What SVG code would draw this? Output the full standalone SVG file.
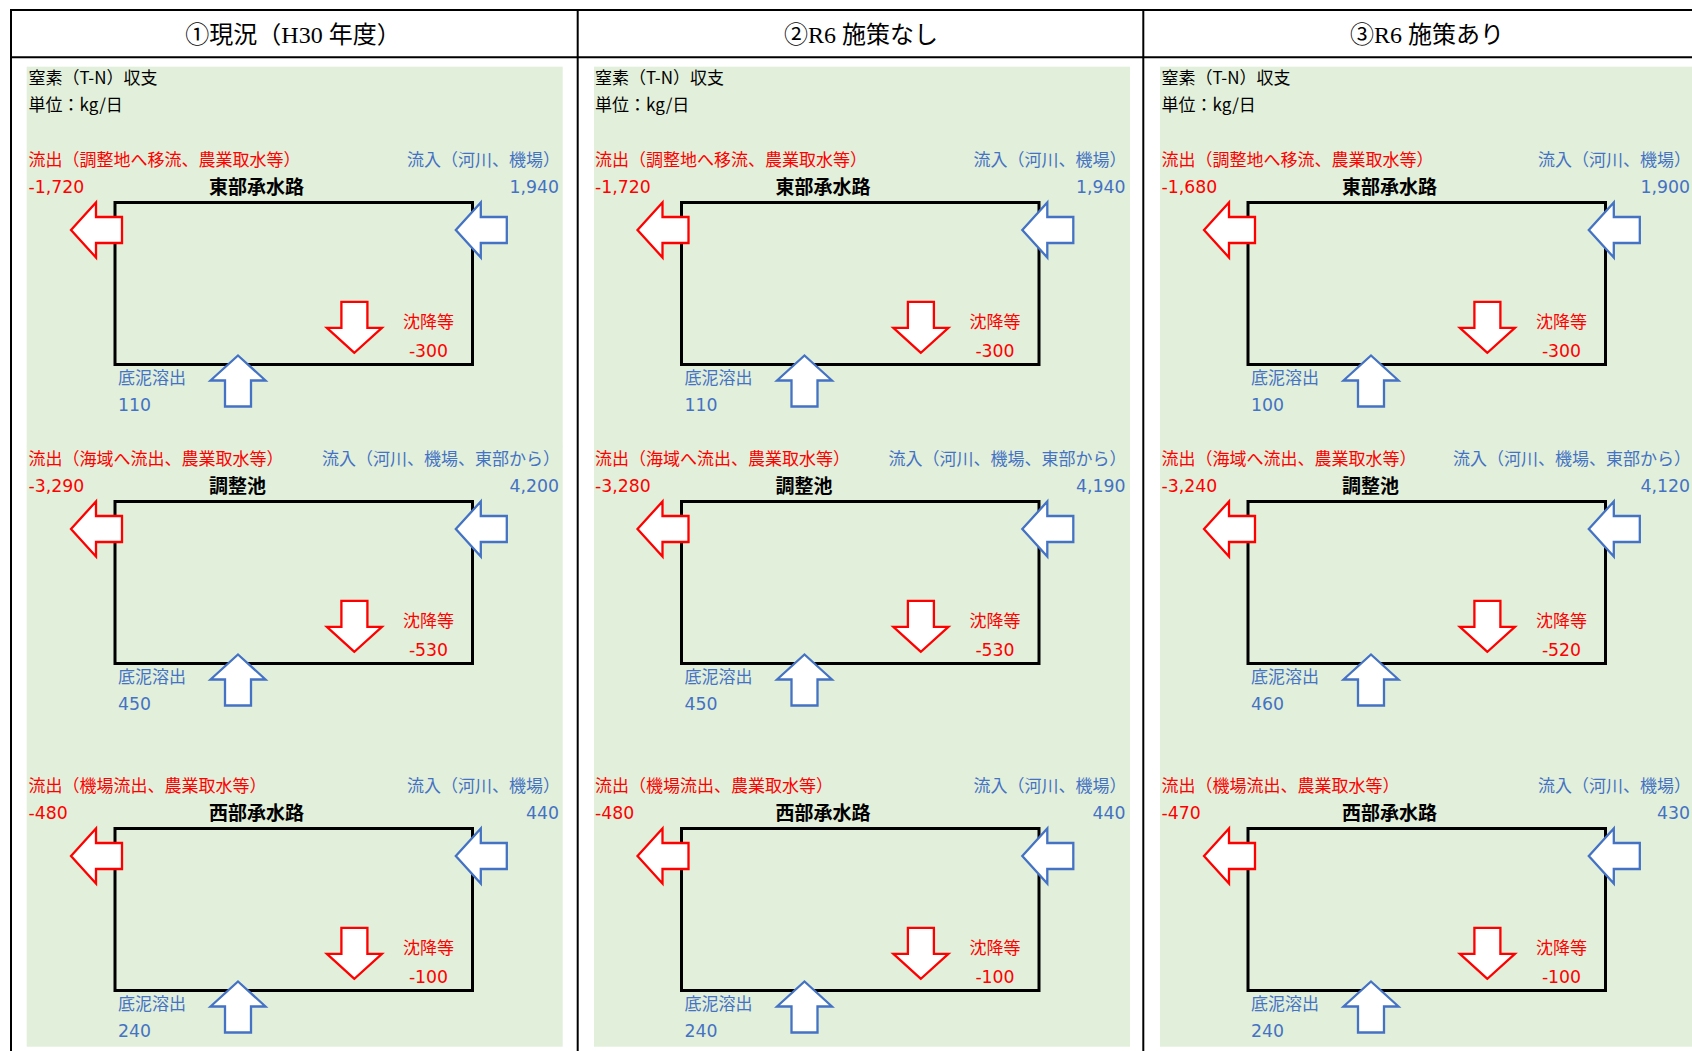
<svg xmlns="http://www.w3.org/2000/svg" xmlns:xlink="http://www.w3.org/1999/xlink" width="1692" height="1051" viewBox="0 0 1692 1051">
<style>
.bg{fill:#E2EFDA}
.grid{stroke:#000;stroke-width:2;fill:none}
.box{fill:none;stroke:#000;stroke-width:3}
.t{font-family:"Noto Sans CJK JP",sans-serif;font-size:17px}
.n{font-family:"DejaVu Sans","Noto Sans CJK JP",sans-serif;font-size:17.3px}
.title{font-family:"Noto Sans CJK JP",sans-serif;font-size:19px;font-weight:700;fill:#000}
.hdr{font-family:"Liberation Serif","Noto Sans CJK JP",serif;font-size:24px;text-anchor:middle;fill:#000}
.red{fill:#FF0000}.blue{fill:#4472C4}.blk{fill:#000}
.m{text-anchor:middle}.e{text-anchor:end}
.ar{fill:#fff;stroke:#FF0000;stroke-width:2.3}
.ab{fill:#fff;stroke:#4472C4;stroke-width:2.3}
</style>
<defs>
<polygon id="arw" points="0,0 25,-27.5 25,-13 51,-13 51,13 25,13 25,27.5"/>
<g id="frame">
<rect class="box" x="115" y="202.5" width="357.5" height="162"/>
</g>
<g id="arrows">
<use xlink:href="#arw" href="#arw" class="ar" transform="translate(71,230)"/>
<use xlink:href="#arw" href="#arw" class="ab" transform="translate(455.8,230)"/>
<use xlink:href="#arw" href="#arw" class="ar" transform="translate(354.4,352.8) rotate(-90)"/>
<use xlink:href="#arw" href="#arw" class="ab" transform="translate(238,355.5) rotate(90)"/>
</g>
</defs>

<g id="background">
<rect class="bg" x="26.7" y="66.7" width="536" height="380"/>
<rect class="bg" x="594" y="66.7" width="536" height="380"/>
<rect class="bg" x="1160" y="66.7" width="540" height="380"/>
<rect class="bg" x="26.7" y="446" width="536" height="600.7"/>
<rect class="bg" x="594" y="446" width="536" height="600.7"/>
<rect class="bg" x="1160" y="446" width="540" height="600.7"/>
</g>

<g id="table">
<line class="grid" x1="10" y1="10" x2="1692" y2="10"/>
<line class="grid" x1="10" y1="57.3" x2="1692" y2="57.3"/>
<line class="grid" x1="11" y1="9" x2="11" y2="1051"/>
<line class="grid" x1="577.7" y1="9" x2="577.7" y2="1051"/>
<line class="grid" x1="1143.3" y1="9" x2="1143.3" y2="1051"/>
<text class="hdr" x="293" y="43">①現況（H30 年度）</text>
<text class="hdr" x="861" y="43">②R6 施策なし</text>
<text class="hdr" x="1427" y="43">③R6 施策あり</text>
</g>

<g id="units">
<text class="t blk" x="28.5" y="83.5">窒素（T-N）収支</text>
<text class="t blk" x="28.5" y="111">単位：kg/日</text>
<text class="t blk" x="595" y="83.5">窒素（T-N）収支</text>
<text class="t blk" x="595" y="111">単位：kg/日</text>
<text class="t blk" x="1161.5" y="83.5">窒素（T-N）収支</text>
<text class="t blk" x="1161.5" y="111">単位：kg/日</text>
</g>

<!-- column 1 -->
<g id="c1-east" transform="translate(0,0)">
<use xlink:href="#frame" href="#frame"/>
<text class="title" x="209" y="193.5">東部承水路</text>
<text class="t red" x="28.5" y="166">流出（調整地へ移流、農業取水等）</text>
<text class="t blue e" x="560" y="166">流入（河川、機場）</text>
<text class="n red" x="28.5" y="193">-1,720</text>
<text class="n blue e" x="559" y="193">1,940</text>
<text class="t red m" x="428.5" y="328">沈降等</text>
<text class="n red m" x="428.5" y="357">-300</text>
<text class="t blue" x="118" y="383.5">底泥溶出</text>
<text class="n blue" x="118" y="411">110</text>
</g>
<g id="c1-pond" transform="translate(0,299)">
<use xlink:href="#frame" href="#frame"/>
<text class="title" x="209" y="193.5">調整池</text>
<text class="t red" x="28.5" y="166">流出（海域へ流出、農業取水等）</text>
<text class="t blue e" x="560" y="166">流入（河川、機場、東部から）</text>
<text class="n red" x="28.5" y="193">-3,290</text>
<text class="n blue e" x="559" y="193">4,200</text>
<text class="t red m" x="428.5" y="328">沈降等</text>
<text class="n red m" x="428.5" y="357">-530</text>
<text class="t blue" x="118" y="383.5">底泥溶出</text>
<text class="n blue" x="118" y="411">450</text>
</g>
<g id="c1-west" transform="translate(0,626)">
<use xlink:href="#frame" href="#frame"/>
<text class="title" x="209" y="193.5">西部承水路</text>
<text class="t red" x="28.5" y="166">流出（機場流出、農業取水等）</text>
<text class="t blue e" x="560" y="166">流入（河川、機場）</text>
<text class="n red" x="28.5" y="193">-480</text>
<text class="n blue e" x="559" y="193">440</text>
<text class="t red m" x="428.5" y="328">沈降等</text>
<text class="n red m" x="428.5" y="357">-100</text>
<text class="t blue" x="118" y="383.5">底泥溶出</text>
<text class="n blue" x="118" y="411">240</text>
</g>

<!-- column 2 -->
<g id="c2-east" transform="translate(566.5,0)">
<use xlink:href="#frame" href="#frame"/>
<text class="title" x="209" y="193.5">東部承水路</text>
<text class="t red" x="28.5" y="166">流出（調整地へ移流、農業取水等）</text>
<text class="t blue e" x="560" y="166">流入（河川、機場）</text>
<text class="n red" x="28.5" y="193">-1,720</text>
<text class="n blue e" x="559" y="193">1,940</text>
<text class="t red m" x="428.5" y="328">沈降等</text>
<text class="n red m" x="428.5" y="357">-300</text>
<text class="t blue" x="118" y="383.5">底泥溶出</text>
<text class="n blue" x="118" y="411">110</text>
</g>
<g id="c2-pond" transform="translate(566.5,299)">
<use xlink:href="#frame" href="#frame"/>
<text class="title" x="209" y="193.5">調整池</text>
<text class="t red" x="28.5" y="166">流出（海域へ流出、農業取水等）</text>
<text class="t blue e" x="560" y="166">流入（河川、機場、東部から）</text>
<text class="n red" x="28.5" y="193">-3,280</text>
<text class="n blue e" x="559" y="193">4,190</text>
<text class="t red m" x="428.5" y="328">沈降等</text>
<text class="n red m" x="428.5" y="357">-530</text>
<text class="t blue" x="118" y="383.5">底泥溶出</text>
<text class="n blue" x="118" y="411">450</text>
</g>
<g id="c2-west" transform="translate(566.5,626)">
<use xlink:href="#frame" href="#frame"/>
<text class="title" x="209" y="193.5">西部承水路</text>
<text class="t red" x="28.5" y="166">流出（機場流出、農業取水等）</text>
<text class="t blue e" x="560" y="166">流入（河川、機場）</text>
<text class="n red" x="28.5" y="193">-480</text>
<text class="n blue e" x="559" y="193">440</text>
<text class="t red m" x="428.5" y="328">沈降等</text>
<text class="n red m" x="428.5" y="357">-100</text>
<text class="t blue" x="118" y="383.5">底泥溶出</text>
<text class="n blue" x="118" y="411">240</text>
</g>

<!-- column 3 -->
<g id="c3-east" transform="translate(1133,0)">
<use xlink:href="#frame" href="#frame"/>
<text class="title" x="209" y="193.5">東部承水路</text>
<text class="t red" x="28.5" y="166">流出（調整地へ移流、農業取水等）</text>
<text class="t blue e" x="558" y="166">流入（河川、機場）</text>
<text class="n red" x="28.5" y="193">-1,680</text>
<text class="n blue e" x="557" y="193">1,900</text>
<text class="t red m" x="428.5" y="328">沈降等</text>
<text class="n red m" x="428.5" y="357">-300</text>
<text class="t blue" x="118" y="383.5">底泥溶出</text>
<text class="n blue" x="118" y="411">100</text>
</g>
<g id="c3-pond" transform="translate(1133,299)">
<use xlink:href="#frame" href="#frame"/>
<text class="title" x="209" y="193.5">調整池</text>
<text class="t red" x="28.5" y="166">流出（海域へ流出、農業取水等）</text>
<text class="t blue e" x="558" y="166">流入（河川、機場、東部から）</text>
<text class="n red" x="28.5" y="193">-3,240</text>
<text class="n blue e" x="557" y="193">4,120</text>
<text class="t red m" x="428.5" y="328">沈降等</text>
<text class="n red m" x="428.5" y="357">-520</text>
<text class="t blue" x="118" y="383.5">底泥溶出</text>
<text class="n blue" x="118" y="411">460</text>
</g>
<g id="c3-west" transform="translate(1133,626)">
<use xlink:href="#frame" href="#frame"/>
<text class="title" x="209" y="193.5">西部承水路</text>
<text class="t red" x="28.5" y="166">流出（機場流出、農業取水等）</text>
<text class="t blue e" x="558" y="166">流入（河川、機場）</text>
<text class="n red" x="28.5" y="193">-470</text>
<text class="n blue e" x="557" y="193">430</text>
<text class="t red m" x="428.5" y="328">沈降等</text>
<text class="n red m" x="428.5" y="357">-100</text>
<text class="t blue" x="118" y="383.5">底泥溶出</text>
<text class="n blue" x="118" y="411">240</text>
</g>

<g id="connectors">
<use xlink:href="#arrows" href="#arrows" transform="translate(0,0)"/>
<use xlink:href="#arrows" href="#arrows" transform="translate(0,299)"/>
<use xlink:href="#arrows" href="#arrows" transform="translate(0,626)"/>
<use xlink:href="#arrows" href="#arrows" transform="translate(566.5,0)"/>
<use xlink:href="#arrows" href="#arrows" transform="translate(566.5,299)"/>
<use xlink:href="#arrows" href="#arrows" transform="translate(566.5,626)"/>
<use xlink:href="#arrows" href="#arrows" transform="translate(1133,0)"/>
<use xlink:href="#arrows" href="#arrows" transform="translate(1133,299)"/>
<use xlink:href="#arrows" href="#arrows" transform="translate(1133,626)"/>
</g>
</svg>
